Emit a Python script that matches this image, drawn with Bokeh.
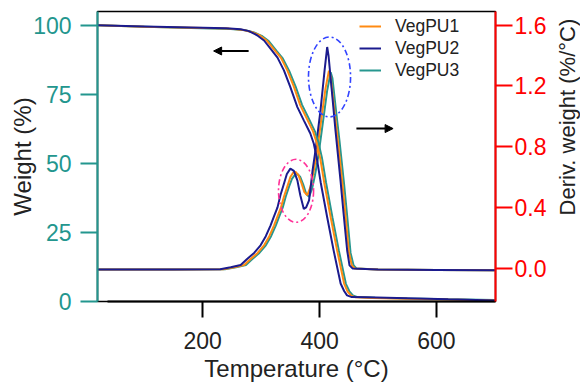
import math
from bokeh.plotting import figure
from bokeh.layouts import row
from bokeh.models import (Range1d, LinearAxis, FixedTicker, PrintfTickFormatter,
                          Arrow, NormalHead, Legend, LegendItem)
from bokeh.core.properties import value
from bokeh.embed import file_html
from bokeh.resources import INLINE

# ---------------- data ----------------
series_names = ["VegPU1", "VegPU2", "VegPU3"]

# Weight (%) vs temperature (°C)
w1_T = [20, 100, 180, 245, 270, 285, 298, 310, 323, 334, 345, 356, 367, 378, 389, 395, 401, 408, 419, 430, 442, 448, 454, 462, 490, 550, 620, 700]
w1_W = [100, 99.5, 99.1, 98.8, 98.3, 97.5, 96.3, 94.4, 91, 88.2, 83.6, 77.8, 71, 66.3, 61.5, 57.5, 52, 43, 30.5, 18.5, 6.5, 3.6, 2.1, 1.5, 1.3, 1.0, 0.7, 0.4]

w2_T = [20, 100, 180, 240, 265, 279, 293, 305, 318, 328, 339, 350, 362, 373, 384, 390, 395, 402, 413, 424, 436, 442, 447, 455, 480, 550, 620, 700]
w2_W = [100, 99.6, 99.2, 98.9, 98.6, 97.9, 96.4, 94.5, 91, 88.3, 83.7, 77.6, 70.4, 65.6, 60.9, 57.2, 52.2, 43, 30.5, 18.5, 6.5, 3.8, 2.2, 1.6, 1.5, 1.2, 0.8, 0.4]

w3_T = [20, 100, 180, 248, 273, 288, 301, 313, 326, 337, 348, 359, 370, 381, 392, 398, 404, 411, 422, 433, 445, 451, 457, 465, 495, 550, 620, 700]
w3_W = [100, 99.5, 99.0, 98.7, 98.2, 97.4, 96.2, 94.3, 90.8, 88.0, 83.5, 77.8, 71.2, 66.5, 61.6, 57.6, 52.1, 43.1, 30.4, 18.4, 6.4, 3.7, 2.2, 1.6, 1.4, 1.1, 0.8, 0.5]

# Derivative weight (%/°C) vs temperature (°C)
d1_T = [20, 150, 235, 254, 271, 282, 294, 305, 314, 322, 328, 334, 339, 345, 350, 355, 359, 364, 369, 374, 379, 384, 389, 395, 403, 410, 416, 419, 425, 431, 439, 444, 450, 455, 460, 500, 600, 700]
d1_D = [-0.01, -0.01, -0.008, 0.005, 0.02, 0.06, 0.10, 0.15, 0.21, 0.28, 0.34, 0.40, 0.47, 0.54, 0.60, 0.63, 0.633, 0.61, 0.56, 0.50, 0.48, 0.53, 0.62, 0.75, 0.98, 1.18, 1.30, 1.26, 1.05, 0.85, 0.56, 0.36, 0.11, 0.02, -0.002, -0.01, -0.012, -0.015]

d2_T = [20, 150, 230, 248, 265, 276, 288, 299, 308, 316, 322, 328, 333, 339, 344, 350, 356, 362, 367, 373, 377, 382, 385, 388, 393, 401.6, 408.5, 413, 415.3, 421.6, 427.2, 435.8, 440.9, 447.2, 451.2, 456.3, 500, 600, 700]
d2_D = [-0.01, -0.01, -0.008, 0.005, 0.02, 0.06, 0.10, 0.15, 0.21, 0.28, 0.34, 0.40, 0.48, 0.556, 0.62, 0.655, 0.64, 0.578, 0.48, 0.39, 0.40, 0.446, 0.54, 0.644, 0.775, 1.04, 1.30, 1.456, 1.40, 1.14, 0.907, 0.578, 0.367, 0.116, 0.018, -0.002, -0.01, -0.012, -0.015]

d3_T = [20, 150, 238, 257, 274, 285, 297, 308, 317, 325, 331, 337, 342, 348, 353, 358, 362, 367, 372, 377, 382, 387, 392, 398, 406, 413, 419, 422, 428, 434, 442, 447, 453, 458, 463, 500, 600, 700]
d3_D = [-0.01, -0.01, -0.008, 0.005, 0.02, 0.06, 0.10, 0.15, 0.21, 0.28, 0.34, 0.40, 0.47, 0.54, 0.59, 0.615, 0.62, 0.60, 0.55, 0.49, 0.47, 0.52, 0.61, 0.74, 0.97, 1.17, 1.29, 1.25, 1.04, 0.84, 0.55, 0.35, 0.10, 0.02, -0.002, -0.01, -0.012, -0.015]

x_ticks = [200, 400, 600]
w_ticks = [0, 25, 50, 75, 100]
d_ticks = [0.0, 0.4, 0.8, 1.2, 1.6]

x_title = "Temperature (°C)"
w_title = "Weight (%)"
d_title = "Deriv. weight (%/°C)"

# ---------------- styling ----------------
FONT = "Liberation Sans"
ORANGE = "#FF8A12"
NAVY = "#1B1B8E"
TEAL = "#27978F"
AX_TEAL = "#23968E"
RED = "#FF0000"
INK = "#222222"

p = figure(width=554, height=385, output_backend="svg", toolbar_location=None,
           x_range=Range1d(20, 701), y_range=Range1d(0, 105),
           min_border_left=97, min_border_right=59, min_border_top=11, min_border_bottom=84)
p.extra_y_ranges = {"deriv": Range1d(-0.22, 1.69)}
p.xgrid.visible = False
p.ygrid.visible = False
p.outline_line_color = "black"
p.outline_line_width = 1.5
p.background_fill_color = "white"
p.border_fill_color = "white"


def style_axis(ax, color, label_color, tick_len, standoff, label_standoff):
    ax.axis_line_color = color
    ax.axis_line_width = 2
    ax.major_tick_line_color = color
    ax.major_tick_line_width = 2
    ax.major_tick_out = tick_len
    ax.major_tick_in = 0
    ax.minor_tick_line_color = None
    ax.major_label_text_color = label_color
    ax.major_label_text_font = FONT
    ax.major_label_text_font_size = "23px"
    ax.major_label_standoff = standoff
    ax.axis_label_text_font = FONT
    ax.axis_label_text_font_size = "24px"
    ax.axis_label_text_font_style = "normal"
    ax.axis_label_text_color = INK
    ax.axis_label_standoff = label_standoff


xa = p.xaxis[0]
xa.ticker = FixedTicker(ticks=x_ticks)
xa.axis_label = x_title
xa.bounds = (37, 701)   # centres the title slightly right of the frame middle, as in the reference
style_axis(xa, "black", INK, 16, 14, 3)

ya = p.yaxis[0]
ya.ticker = FixedTicker(ticks=w_ticks)
style_axis(ya, AX_TEAL, AX_TEAL, 17, 9, 0)

# title-only left axis, centred a little above the frame middle as in the reference
yt = LinearAxis(ticker=FixedTicker(ticks=[]), bounds=(12.4, 100), axis_label=w_title)
style_axis(yt, None, INK, 0, 0, -5)
yt.axis_line_color = None
yt.major_tick_line_color = None
p.add_layout(yt, "left")

ra = LinearAxis(y_range_name="deriv")
ra.ticker = FixedTicker(ticks=d_ticks)
ra.formatter = PrintfTickFormatter(format="%.1f")
style_axis(ra, RED, RED, 17, 2, 0)
p.add_layout(ra, "right")

# ---------------- lines ----------------
dr3 = p.line(d3_T, d3_D, line_color=TEAL, line_width=2, y_range_name="deriv")
dr1 = p.line(d1_T, d1_D, line_color=ORANGE, line_width=2, y_range_name="deriv")
dr2 = p.line(d2_T, d2_D, line_color=NAVY, line_width=2, y_range_name="deriv")
wr3 = p.line(w3_T, w3_W, line_color=TEAL, line_width=2)
wr1 = p.line(w1_T, w1_W, line_color=ORANGE, line_width=2)
wr2 = p.line(w2_T, w2_W, line_color=NAVY, line_width=2)

# ---------------- annotations ----------------
p.ellipse(x=[359.7], y=[0.509], width=[60], height=[0.415], fill_alpha=0,
          line_color="#FF3399", line_dash="6 3 2 3", line_width=1.6, y_range_name="deriv")
p.ellipse(x=[417], y=[1.259], width=[72], height=[0.527], fill_alpha=0,
          line_color="#3344FF", line_dash="6 3 2 3", line_width=1.6, y_range_name="deriv")

p.add_layout(Arrow(end=NormalHead(size=8, fill_color="black", line_color="black"),
                   x_start=278.6, y_start=90.7, x_end=218.7, y_end=90.7,
                   line_width=2, line_color="black"))
p.add_layout(Arrow(end=NormalHead(size=8, fill_color="black", line_color="black"),
                   x_start=463, y_start=0.919, x_end=525.8, y_end=0.919,
                   line_width=2, line_color="black", y_range_name="deriv"))

legend = Legend(items=[LegendItem(label=series_names[0], renderers=[wr1]),
                       LegendItem(label=series_names[1], renderers=[wr2]),
                       LegendItem(label=series_names[2], renderers=[wr3])],
                location=(262, 220))
legend.border_line_alpha = 0
legend.background_fill_alpha = 0
legend.label_text_font = FONT
legend.label_text_font_size = "17.5px"
legend.label_text_color = INK
legend.glyph_width = 22
legend.glyph_height = 22
legend.label_height = 22
legend.spacing = 0
legend.padding = 0
legend.margin = 0
legend.label_standoff = 14
p.add_layout(legend)

# ---------------- right-hand axis title (reads bottom to top) ----------------
q = figure(width=26, height=385, output_backend="svg", toolbar_location=None,
           x_range=Range1d(0, 1), y_range=Range1d(0, 1),
           x_axis_location=None, y_axis_location=None, min_border=0)
q.xgrid.visible = False
q.ygrid.visible = False
q.outline_line_color = None
q.background_fill_color = "white"
q.border_fill_color = "white"
q.text(x=[0.5], y=[0.636], text=[d_title], angle=math.pi / 2,
       text_align="center", text_baseline="middle",
       text_font=value(FONT), text_font_size="22px", text_color=INK)

layout = row(p, q, spacing=0)
open("out.html", "w").write(file_html(layout, INLINE))
